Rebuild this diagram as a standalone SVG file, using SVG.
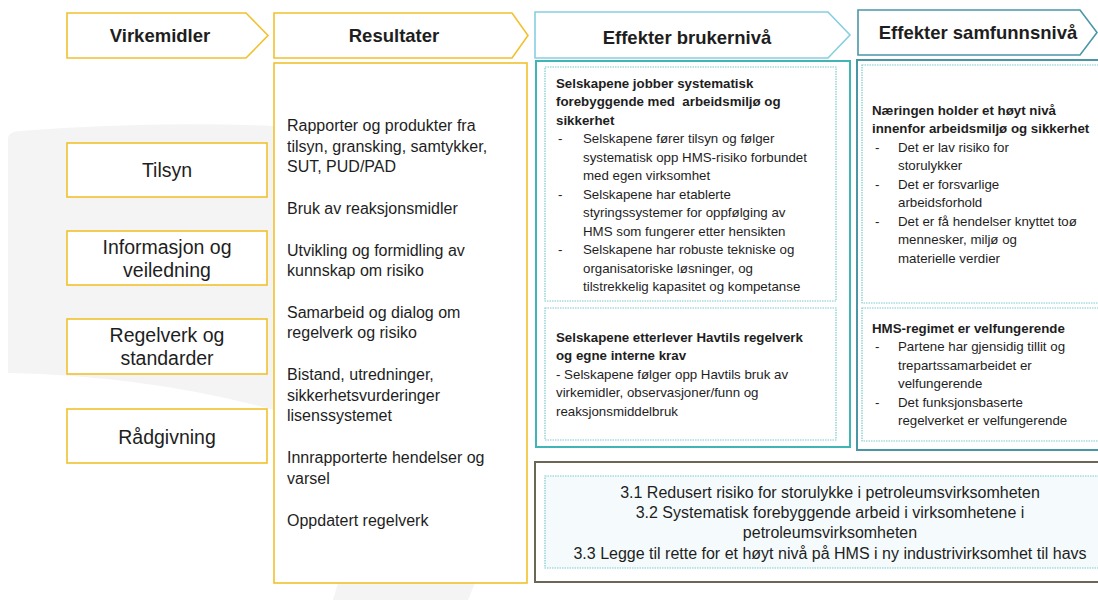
<svg xmlns="http://www.w3.org/2000/svg" width="1098" height="600" viewBox="0 0 1098 600">
<style>
text{font-family:"Liberation Sans",Arial,sans-serif;fill:#1e1e1e;white-space:pre}
.hd{font-weight:bold;font-size:18.5px;text-anchor:middle}
.yel{fill:#fff;stroke:#f2c12e;stroke-width:1.6}
.lb{font-size:19.5px;text-anchor:middle}
.res{font-size:16px}
.sm{font-size:13.3px}
.b{font-weight:bold}
.dot{fill:#fff;stroke:#7dc9ce;stroke-width:1.2;stroke-dasharray:1.5 1}
.ctr{font-size:16px;text-anchor:middle}
</style>
<rect width="1098" height="600" fill="#fff"/>
<path d="M8,138 Q8,132 20,131 Q150,121 274,126 L274,410 Q150,376 8,373 Z" fill="#f4f4f4"/>
<polygon points="338,583 475,583 468,600 333,600" fill="#f4f4f4"/>

<g id="hdr-virkemidler">
<polygon class="yel" points="67,13 246,13 268,35.5 246,58 67,58"/>
<text class="hd" x="160" y="42">Virkemidler</text>
</g>
<g id="hdr-resultater">
<polygon class="yel" points="274,13 512,13 528,35.5 512,58 274,58"/>
<text class="hd" x="394" y="42">Resultater</text>
</g>
<g id="hdr-brukerniva">
<polygon points="535,12 828,12 850,35 828,58 535,58" fill="#fff" stroke="#86cfe0" stroke-width="1.6"/>
<text class="hd" x="687" y="44">Effekter brukernivå</text>
</g>
<g id="hdr-samfunnsniva">
<polygon points="858,10 1080,10 1097,32.5 1080,55 858,55" fill="#fff" stroke="#4b97a8" stroke-width="1.6"/>
<text class="hd" x="978" y="39">Effekter samfunnsnivå</text>
</g>

<g id="tilsyn">
<rect class="yel" x="67" y="143" width="200" height="54"/>
<text class="lb" x="167" y="177">Tilsyn</text>
</g>
<g id="informasjon">
<rect class="yel" x="67" y="231" width="200" height="54"/>
<text class="lb" x="167" y="254">Informasjon og</text>
<text class="lb" x="167" y="277">veiledning</text>
</g>
<g id="regelverk">
<rect class="yel" x="67" y="319" width="200" height="55"/>
<text class="lb" x="167" y="342">Regelverk og</text>
<text class="lb" x="167" y="365">standarder</text>
</g>
<g id="radgivning">
<rect class="yel" x="67" y="409" width="200" height="54"/>
<text class="lb" x="167" y="444">Rådgivning</text>
</g>

<g id="resultater">
<rect class="yel" x="274" y="63" width="253" height="520"/>
<text class="res" x="287" y="131">Rapporter og produkter fra</text>
<text class="res" x="287" y="152">tilsyn, gransking, samtykker,</text>
<text class="res" x="287" y="172">SUT, PUD/PAD</text>
<text class="res" x="287" y="214">Bruk av reaksjonsmidler</text>
<text class="res" x="287" y="256">Utvikling og formidling av</text>
<text class="res" x="287" y="276">kunnskap om risiko</text>
<text class="res" x="287" y="318">Samarbeid og dialog om</text>
<text class="res" x="287" y="338">regelverk og risiko</text>
<text class="res" x="287" y="380">Bistand, utredninger,</text>
<text class="res" x="287" y="401">sikkerhetsvurderinger</text>
<text class="res" x="287" y="421">lisenssystemet</text>
<text class="res" x="287" y="463">Innrapporterte hendelser og</text>
<text class="res" x="287" y="484">varsel</text>
<text class="res" x="287" y="526">Oppdatert regelverk</text>
</g>

<g id="brukerniva">
<rect x="536" y="61" width="314" height="386" fill="#fff" stroke="#41b4b5" stroke-width="2"/>
<g id="bruker-1">
<rect class="dot" x="545" y="67" width="291" height="234"/>
<text class="sm b" x="556" y="87.5">Selskapene jobber systematisk</text>
<text class="sm b" x="556" y="106">forebyggende med  arbeidsmiljø og</text>
<text class="sm b" x="556" y="124.5">sikkerhet</text>
<text class="sm" x="558" y="143">-</text><text class="sm" x="583" y="143">Selskapene fører tilsyn og følger</text>
<text class="sm" x="583" y="161.5">systematisk opp HMS-risiko forbundet</text>
<text class="sm" x="583" y="180">med egen virksomhet</text>
<text class="sm" x="558" y="198.5">-</text><text class="sm" x="583" y="198.5">Selskapene har etablerte</text>
<text class="sm" x="583" y="217">styringssystemer for oppfølging av</text>
<text class="sm" x="583" y="235.5">HMS som fungerer etter hensikten</text>
<text class="sm" x="558" y="254">-</text><text class="sm" x="583" y="254">Selskapene har robuste tekniske og</text>
<text class="sm" x="583" y="272.5">organisatoriske løsninger, og</text>
<text class="sm" x="583" y="291">tilstrekkelig kapasitet og kompetanse</text>
</g>
<g id="bruker-2">
<rect class="dot" x="545" y="308" width="291" height="132"/>
<text class="sm b" x="556" y="341.5">Selskapene etterlever Havtils regelverk</text>
<text class="sm b" x="556" y="360">og egne interne krav</text>
<text class="sm" x="556" y="378.5">- Selskapene følger opp Havtils bruk av</text>
<text class="sm" x="556" y="397">virkemidler, observasjoner/funn og</text>
<text class="sm" x="556" y="415.5">reaksjonsmiddelbruk</text>
</g>
</g>

<g id="samfunnsniva">
<rect x="857" y="60" width="245" height="390" fill="#fff" stroke="#4a96a6" stroke-width="2"/>
<g id="samfunn-1">
<rect class="dot" x="862" y="65" width="240" height="238"/>
<text class="sm b" x="872" y="114.5">Næringen holder et høyt nivå</text>
<text class="sm b" x="872" y="133">innenfor arbeidsmiljø og sikkerhet</text>
<text class="sm" x="875" y="151.5">-</text><text class="sm" x="898" y="151.5">Det er lav risiko for</text>
<text class="sm" x="898" y="170">storulykker</text>
<text class="sm" x="875" y="188.5">-</text><text class="sm" x="898" y="188.5">Det er forsvarlige</text>
<text class="sm" x="898" y="207">arbeidsforhold</text>
<text class="sm" x="875" y="225.5">-</text><text class="sm" x="898" y="225.5">Det er få hendelser knyttet toø</text>
<text class="sm" x="898" y="244">mennesker, miljø og</text>
<text class="sm" x="898" y="262.5">materielle verdier</text>
</g>
<g id="samfunn-2">
<rect class="dot" x="862" y="308" width="240" height="133"/>
<text class="sm b" x="872" y="332.5">HMS-regimet er velfungerende</text>
<text class="sm" x="875" y="351">-</text><text class="sm" x="898" y="351">Partene har gjensidig tillit og</text>
<text class="sm" x="898" y="369.5">trepartssamarbeidet er</text>
<text class="sm" x="898" y="388">velfungerende</text>
<text class="sm" x="875" y="406.5">-</text><text class="sm" x="898" y="406.5">Det funksjonsbaserte</text>
<text class="sm" x="898" y="425">regelverket er velfungerende</text>
</g>
</g>

<g id="mal">
<rect x="535" y="462" width="567" height="120" fill="#fff" stroke="#6b6656" stroke-width="2"/>
<rect x="545" y="476" width="557" height="92" fill="#f5fbfc" stroke="#7dc9ce" stroke-width="1.2" stroke-dasharray="1.5 1"/>
<text class="ctr" x="830" y="497.5">3.1 Redusert risiko for storulykke i petroleumsvirksomheten</text>
<text class="ctr" x="830" y="517.5">3.2 Systematisk forebyggende arbeid i virksomhetene i</text>
<text class="ctr" x="830" y="537.5">petroleumsvirksomheten</text>
<text class="ctr" x="830" y="558.5">3.3 Legge til rette for et høyt nivå på HMS i ny industrivirksomhet til havs</text>
</g>

<g id="connectors"/>
</svg>
